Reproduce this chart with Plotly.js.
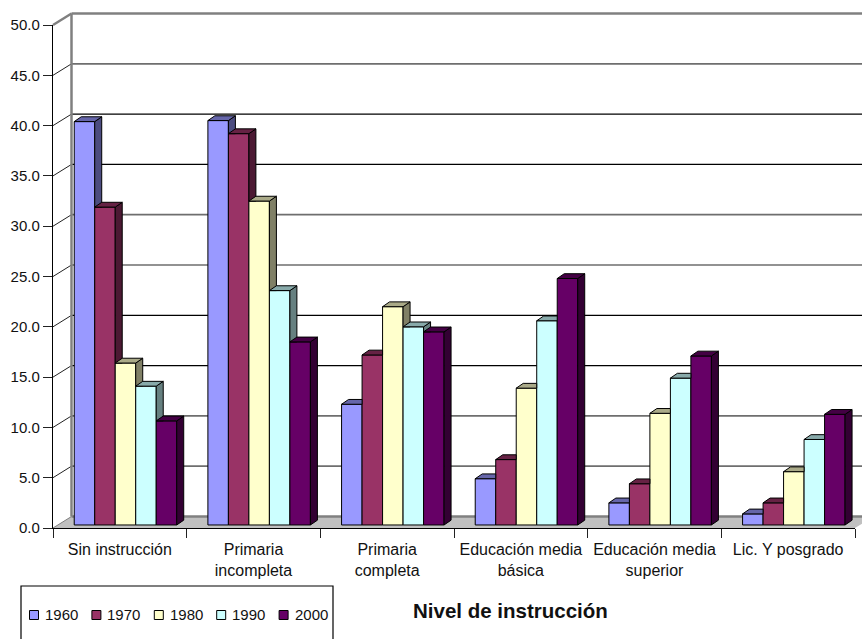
<!DOCTYPE html>
<html><head><meta charset="utf-8">
<script src="https://cdn.plot.ly/plotly-3.0.1.min.js"></script>
<style>html,body{margin:0;padding:0;background:#fff;overflow:hidden}</style>
</head><body><div id="chart" style="width:862px;height:639px"></div>
<script>
const categories = ["Sin instrucción","Primaria<br>incompleta","Primaria<br>completa","Educación media<br>básica","Educación media<br>superior","Lic. Y posgrado"];
const years = ["1960","1970","1980","1990","2000"];
const v1960 = [40.1,40.2,12.0,4.6,2.2,1.1];
const v1970 = [31.6,38.9,16.9,6.5,4.1,2.2];
const v1980 = [16.1,32.2,21.7,13.6,11.1,5.3];
const v1990 = [13.8,23.3,19.7,20.3,14.6,8.5];
const v2000 = [10.35,18.2,19.2,24.5,16.8,11.0];
const seriesValues = [v1960,v1970,v1980,v1990,v2000];
const frontColors = ["#9999FF","#993366","#FFFFCC","#CCFFFF","#660066"];
const sideColors  = ["#4C4C80","#4C1933","#808066","#668080","#330033"];
const topColors   = ["#6666AA","#662244","#AAAA88","#88AAAA","#440044"];
const yTicks = [0,5,10,15,20,25,30,35,40,45,50];
const darkGrid = [15,20,35,40];

const W=862,H=639,M={l:53,r:7,t:25,b:111};
const PW=W-M.l-M.r, PH=H-M.t-M.b;
const catPx=PW/6, unitPx=PH/50;
const xPaper=c=>(c+0.5)/6, yPaper=v=>v/50;
const pxX=p=>(p-M.l)/PW, pxY=p=>(H-M.b-p)/PH;

const wallDx=18.5/catPx, wallDy=11.5/unitPx;
const barBase=0.3, barW=20.5/catPx, barStart=-45.6/catPx;
const depthDx=7/catPx, depthDy=4.8/unitPx;
const catIdx=categories.map((_,i)=>i);

const traces=[];
seriesValues.forEach((vals,s)=>{
  traces.push({type:'bar',name:years[s],x:catIdx,y:vals,base:barBase,
    width:barW,offset:barStart+s*barW,
    marker:{color:frontColors[s],line:{color:'#000',width:1}},showlegend:false,hoverinfo:'skip'});
});
seriesValues.forEach((vals,s)=>{
  const sx=[],sy=[],tx=[],ty=[];
  vals.forEach((v,c)=>{
    const L=c+barStart+s*barW,R=L+barW,top=v+barBase,bot=barBase;
    const next=s<4?seriesValues[s+1][c]+barBase:-Infinity;
    const lowL=Math.max(bot,next), lowR=Math.max(bot+depthDy,next);
    if(next<top+depthDy){
      sx.push(R,R+depthDx,R+depthDx,R,R,null);
      sy.push(Math.max(top,lowL),top+depthDy,lowR,lowL,Math.max(top,lowL),null);
    }
    if(next>=top+depthDy){
      tx.push(L,R,R,L+depthDx,L,null);
      ty.push(top,top,top+depthDy,top+depthDy,top,null);
    } else if(next>top){
      const t=(next-top)/depthDy;
      tx.push(L,R,R,R+depthDx*t,R+depthDx,L+depthDx,L,null);
      ty.push(top,top,next,next,top+depthDy,top+depthDy,top,null);
    } else {
      tx.push(L,R,R+depthDx,L+depthDx,L,null);
      ty.push(top,top,top+depthDy,top+depthDy,top,null);
    }
  });
  const mk=(x,y,col)=>({type:'scatter',mode:'lines',x,y,fill:'toself',fillcolor:col,
    line:{color:'#000',width:1},cliponaxis:false,showlegend:false,hoverinfo:'skip',connectgaps:false});
  traces.push(mk(sx,sy,sideColors[s]));
  traces.push(mk(tx,ty,topColors[s]));
});

const px=xPaper,py=yPaper;
const backX=px(-0.5+wallDx), dyW=py(wallDy), dxW=px(-0.5+wallDx)-px(-0.5);
const farRight=px(5.5)+dxW;
const shapes=[];
const P=(x,y)=>x.toFixed(5)+','+y.toFixed(5);
const paperLine=(x0,y0,x1,y1,color,width)=>({type:'line',xref:'paper',yref:'paper',x0,y0,x1,y1,layer:'below',line:{color,width}});
shapes.push({type:'path',xref:'paper',yref:'paper',layer:'below',fillcolor:'#C0C0C0',line:{width:0},
  path:'M'+P(px(-0.5),0)+'L'+P(backX,dyW)+'L'+P(farRight,dyW)+'L'+P(px(5.5),0)+'Z'});
yTicks.forEach(t=>{
  const y=py(t), dark=darkGrid.includes(t);
  if(t>0) shapes.push(paperLine(backX,y+dyW,farRight,y+dyW,t===50?'#808080':(dark?'#000':'#6e6e6e'),t===50?2.5:(dark?1.2:1.7)));
  else shapes.push(paperLine(backX,dyW,farRight,dyW,'#808080',2.5));
  shapes.push(paperLine(px(-0.5),y,backX,y+dyW,(t===50||t===0)?'#808080':'#222',t===50?2.5:1));
});
shapes.push(paperLine(backX,dyW,backX,1+dyW,'#808080',2.5));
shapes.push({type:'rect',xref:'paper',yref:'paper',layer:'above',x0:pxX(21),x1:pxX(333),y0:pxY(586),y1:pxY(680),
  fillcolor:'#fff',line:{color:'#000',width:1.2}});
const annotations=[];
years.forEach((yr,i)=>{
  const sw=29.5+i*62.4;
  shapes.push({type:'rect',xref:'paper',yref:'paper',layer:'above',x0:pxX(sw),x1:pxX(sw+9),y0:pxY(619.5),y1:pxY(610.5),
    fillcolor:frontColors[i],line:{color:'#000',width:1}});
  annotations.push({xref:'paper',yref:'paper',x:pxX(sw+13.5),y:pxY(614.5),xanchor:'left',yanchor:'middle',showarrow:false,
    text:yr,font:{family:'Liberation Sans',size:15,color:'#111'}});
});
annotations.push({xref:'paper',yref:'paper',x:pxX(510),y:pxY(610.5),xanchor:'center',yanchor:'middle',showarrow:false,
  text:'<b>Nivel de instrucción</b>',font:{family:'Liberation Sans',size:20.5,color:'#111'}});

const layout={width:W,height:H,margin:{l:M.l,r:M.r,t:M.t,b:M.b,pad:0},
  paper_bgcolor:'#fff',plot_bgcolor:'rgba(0,0,0,0)',barmode:'overlay',showlegend:false,
  font:{family:'Liberation Sans',size:15,color:'#111'},
  xaxis:{type:'linear',range:[-0.5,5.5],tickmode:'array',tickvals:catIdx,ticktext:categories,
    showgrid:false,zeroline:false,showline:true,linecolor:'#000',linewidth:1.2,
    ticks:'outside',ticklen:9,tickcolor:'rgba(0,0,0,0)',tickwidth:1,tickangle:0,automargin:false,ticklabelstandoff:-2,
    minor:{tickmode:'array',tickvals:[-0.5,0.5,1.5,2.5,3.5,4.5,5.5],ticks:'outside',ticklen:9,tickcolor:'#222',tickwidth:1,showgrid:false},
    tickfont:{family:'Liberation Sans',size:16,color:'#111'},fixedrange:true},
  yaxis:{range:[0,50],tickvals:yTicks,tickformat:'.1f',showgrid:false,zeroline:false,showline:true,linecolor:'#000',linewidth:1.2,
    ticks:'outside',ticklen:9,tickcolor:'#222',tickwidth:1,automargin:false,
    tickfont:{family:'Liberation Sans',size:15,color:'#111'},fixedrange:true},
  shapes,annotations};
Plotly.newPlot('chart',traces,layout,{displayModeBar:false,staticPlot:true});
</script></body></html>
